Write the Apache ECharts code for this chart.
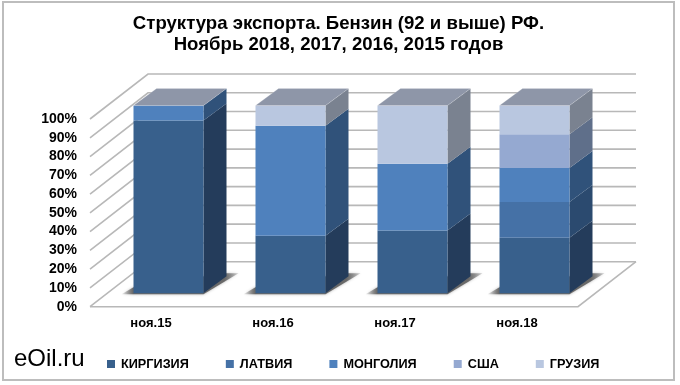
<!DOCTYPE html>
<html>
<head>
<meta charset="utf-8">
<style>html,body{margin:0;padding:0;background:#fff}#c{width:680px;height:385px}</style>
<script src="https://cdn.jsdelivr.net/npm/echarts@6/dist/echarts.min.js"></script>
</head>
<body>
<div id="c"></div>
<script>
const categories = ['ноя.15', 'ноя.16', 'ноя.17', 'ноя.18'];
const seriesNames = ['КИРГИЗИЯ', 'ЛАТВИЯ', 'МОНГОЛИЯ', 'США', 'ГРУЗИЯ'];
const kirgizia = [92, 30.6, 33.5, 29.6];
const latvia   = [0, 0, 0, 19];
const mongolia = [8, 58.6, 35.5, 18.2];
const usa      = [0, 0, 0, 18];
const gruzia   = [0, 10.8, 31, 15.2];
const yTicks = [0, 10, 20, 30, 40, 50, 60, 70, 80, 90, 100];

const values = [kirgizia, latvia, mongolia, usa, gruzia];
const frontColors = ['#38608c', '#4571a6', '#4f81bd', '#95a9d1', '#b9c7e0'];
const sideColors  = ['#243c5b', '#2b4a6f', '#30527a', '#5f6f8a', '#7a8290'];
const topColor = '#8e96a8';
const wallColor = '#b8b8b8';
const WALL_DX = 58, WALL_DY = 45, BAR_DX = 17.5, BAR_DY = 13.4, DEPTH_DX = 23, DEPTH_DY = 17, BAR_W = 70;

function renderWall(params, api) {
  const cs = params.coordSys;
  const v = api.value(1);
  const y = api.coord([0, v])[1];
  const x0 = cs.x, x1 = cs.x + cs.width;
  const children = [{
    type: 'polyline',
    shape: { points: [[x0, y], [x0 + WALL_DX, y - WALL_DY], [x1 + WALL_DX, y - WALL_DY]] },
    style: { fill: null, stroke: wallColor, lineWidth: 1.6 }
  }];
  if (v === 0) {
    children.push({
      type: 'polyline',
      shape: { points: [[x0, y], [x1, y], [x1 + WALL_DX, y - WALL_DY]] },
      style: { fill: null, stroke: wallColor, lineWidth: 1.6 }
    });
  }
  return { type: 'group', children };
}

function renderShadow(params, api) {
  const c = api.coord([api.value(0), 0]);
  const xl = c[0] + BAR_DX - BAR_W / 2, xr = xl + BAR_W, y = c[1] - BAR_DY;
  return {
    type: 'polygon',
    shape: { points: [[xl - 12, y + 1], [xr, y + 1], [xr + 35, y - 20], [xr + 20, y - 20], [xl, y - 6]] },
    style: {
      fill: { type: 'linear', x: 0, y: 0, x2: 1, y2: 0, colorStops: [
        { offset: 0, color: 'rgba(100,100,100,0.05)' },
        { offset: 0.1, color: 'rgba(100,100,100,0.95)' },
        { offset: 0.88, color: 'rgba(100,100,100,0.95)' },
        { offset: 1, color: 'rgba(100,100,100,0.25)' }
      ] },
      shadowBlur: 3, shadowColor: 'rgba(120,120,120,0.6)'
    }
  };
}

function makeRenderBar(s) {
  return function (params, api) {
    const cat = api.value(0), lo = api.value(1), hi = api.value(2);
    const a = api.coord([cat, lo]), b = api.coord([cat, hi]);
    const xl = a[0] + BAR_DX - BAR_W / 2, xr = xl + BAR_W;
    const yb = a[1] - BAR_DY, yt = b[1] - BAR_DY;
    const children = [
      { type: 'polygon',
        shape: { points: [[xr, yb], [xr + DEPTH_DX, yb - DEPTH_DY], [xr + DEPTH_DX, yt - DEPTH_DY], [xr, yt]] },
        style: { fill: sideColors[s] } },
      { type: 'rect',
        shape: { x: xl, y: yt, width: BAR_W, height: yb - yt },
        style: { fill: frontColors[s] } }
    ];
    if (hi >= 99.9) {
      children.push({ type: 'polygon',
        shape: { points: [[xl, yt], [xl + DEPTH_DX, yt - DEPTH_DY], [xr + DEPTH_DX, yt - DEPTH_DY], [xr, yt]] },
        style: { fill: topColor, stroke: 'rgba(255,255,255,0.18)', lineWidth: 1 } });
    }
    return { type: 'group', children };
  };
}

const cumulative = categories.map(() => 0);
const barSeries = seriesNames.map((name, s) => {
  const data = [];
  values[s].forEach((v, i) => {
    if (v > 0) { data.push([i, cumulative[i], cumulative[i] + v]); cumulative[i] += v; }
  });
  return {
    type: 'custom', name, renderItem: makeRenderBar(s), data,
    encode: { x: 0, y: [1, 2] }, itemStyle: { color: frontColors[s] }, clip: false, z: 5
  };
});

const chart = echarts.init(document.getElementById('c'), null, { renderer: 'canvas' });
chart.setOption({
  animation: false,
  backgroundColor: '#fff',
  title: {
    text: 'Структура экспорта. Бензин (92 и выше) РФ.\nНоябрь 2018, 2017, 2016, 2015 годов',
    left: 333.5, top: 8, textAlign: 'center',
    textStyle: { fontFamily: 'Liberation Sans', fontSize: 18.6, fontWeight: 'bold', color: '#000', lineHeight: 21 }
  },
  legend: {
    data: seriesNames, left: 102, top: 352.5, icon: 'rect', itemWidth: 8, itemHeight: 8, itemGap: 37,
    textStyle: { fontFamily: 'Liberation Sans', fontSize: 12.7, fontWeight: 'bold', color: '#000', padding: [0, 0, 0, 1] }
  },
  grid: { left: 90, right: 102, top: 119, height: 187.7, containLabel: false },
  xAxis: {
    type: 'category', data: categories,
    axisLine: { show: false }, axisTick: { show: false }, splitLine: { show: false },
    axisLabel: { fontFamily: 'Liberation Sans', fontSize: 13, fontWeight: 'bold', color: '#000', margin: 10, interval: 0 }
  },
  yAxis: {
    type: 'value', min: 0, max: 100, interval: 10,
    axisLine: { show: false }, axisTick: { show: false }, splitLine: { show: false },
    axisLabel: { formatter: '{value}%', fontFamily: 'Liberation Sans', fontSize: 14, fontWeight: 'bold', color: '#000', margin: 13 }
  },
  graphic: [
    { type: 'rect', z: -1, silent: true, shape: { x: 3, y: 2, width: 671, height: 378 },
      style: { fill: '#fff', stroke: '#bdbdbd', lineWidth: 2 } },
    { type: 'text', left: 14, top: 347, silent: true,
      style: { text: 'eOil.ru', fontFamily: 'Liberation Sans', fontSize: 24, fill: '#000' } }
  ],
  series: [
    { type: 'custom', name: 'walls', renderItem: renderWall, clip: false, z: 1,
      data: yTicks.map(v => [0, v]), encode: { x: 0, y: 1 } },
    { type: 'custom', name: 'shadows', renderItem: renderShadow, clip: false, z: 2,
      data: categories.map((c, i) => [i, 0]), encode: { x: 0, y: 1 } }
  ].concat(barSeries)
});
</script>
</body>
</html>
